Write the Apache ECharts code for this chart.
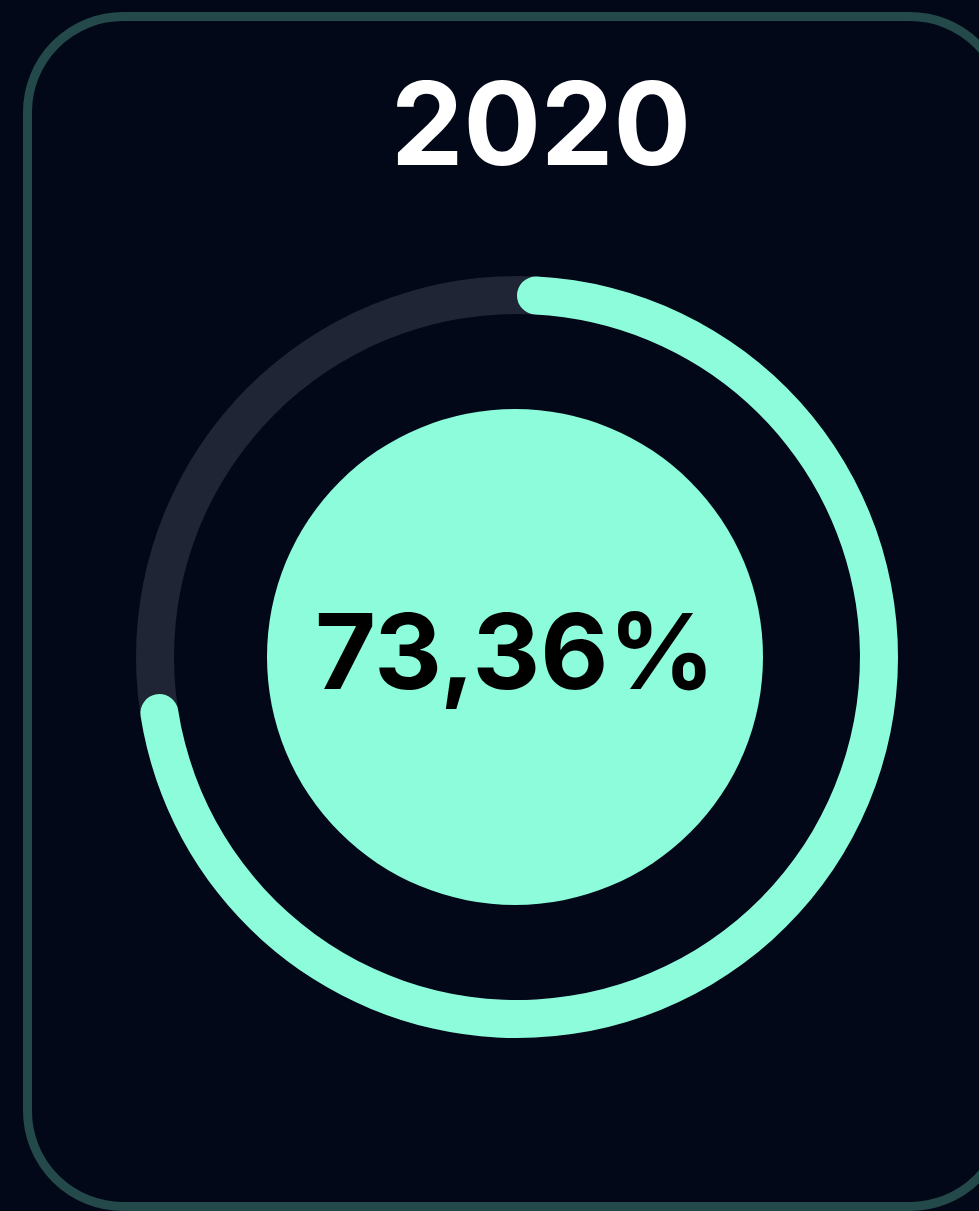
<!DOCTYPE html>
<html>
<head>
<meta charset="utf-8">
<title>2020</title>
<script src="https://cdn.jsdelivr.net/npm/echarts@6/dist/echarts.min.js"></script>
<style>
  html, body { margin: 0; padding: 0; background: #020817; overflow: hidden; }
  .card {
    position: absolute;
    left: 23px;
    top: 12px;
    width: 987px;
    height: 1199px;
    box-sizing: border-box;
    border: 9px solid #24494a;
    border-radius: 100px;
  }
  #chart { position: absolute; left: 0; top: 0; width: 979px; height: 1211px; }
</style>
</head>
<body>
<div class="card"></div>
<div id="chart"></div>
<script>
const yearLabel = "2020";
const shareNames = ["Anteil", "Rest"];
const shareValues = [73.36];
const scaleMax = [100];

const teal = "#8cfcdb";
const fmt = (v) => v.toFixed(2).replace(".", ",") + "%";

const chart = echarts.init(document.getElementById("chart"));
chart.setOption({
  animation: false,
  graphic: [
    {
      type: "text",
      x: 541,
      y: 130,
      style: {
        text: yearLabel,
        fill: "#fff",
        font: "bold 115px Inter",
        align: "center",
        verticalAlign: "middle",
      },
    },
  ],
  series: [
    {
      // track
      type: "pie",
      silent: true,
      center: [517, 657],
      radius: [343, 381],
      label: { show: false },
      itemStyle: { color: "#1f2535" },
      data: [{ name: "track", value: scaleMax[0] }],
    },
    {
      type: "pie",
      silent: true,
      startAngle: 90,
      center: [517, 657],
      radius: [343, 381],
      label: { show: false },
      data: [
        { name: shareNames[0], value: shareValues[0], itemStyle: { color: teal, borderRadius: 19 } },
        { name: shareNames[1], value: scaleMax[0] - shareValues[0], itemStyle: { color: "transparent" } },
      ],
    },
    {
      type: "pie",
      silent: true,
      center: [515, 657],
      radius: [0, 248],
      itemStyle: { color: teal },
      label: {
        show: true,
        position: "center",
        formatter: () => fmt(shareValues[0]),
        color: "#000",
        fontFamily: "Inter",
        fontWeight: "bold",
        fontSize: 105,
      },
      labelLine: { show: false },
      data: [{ name: shareNames[0], value: shareValues[0] }],
    },
  ],
});
</script>
</body>
</html>
